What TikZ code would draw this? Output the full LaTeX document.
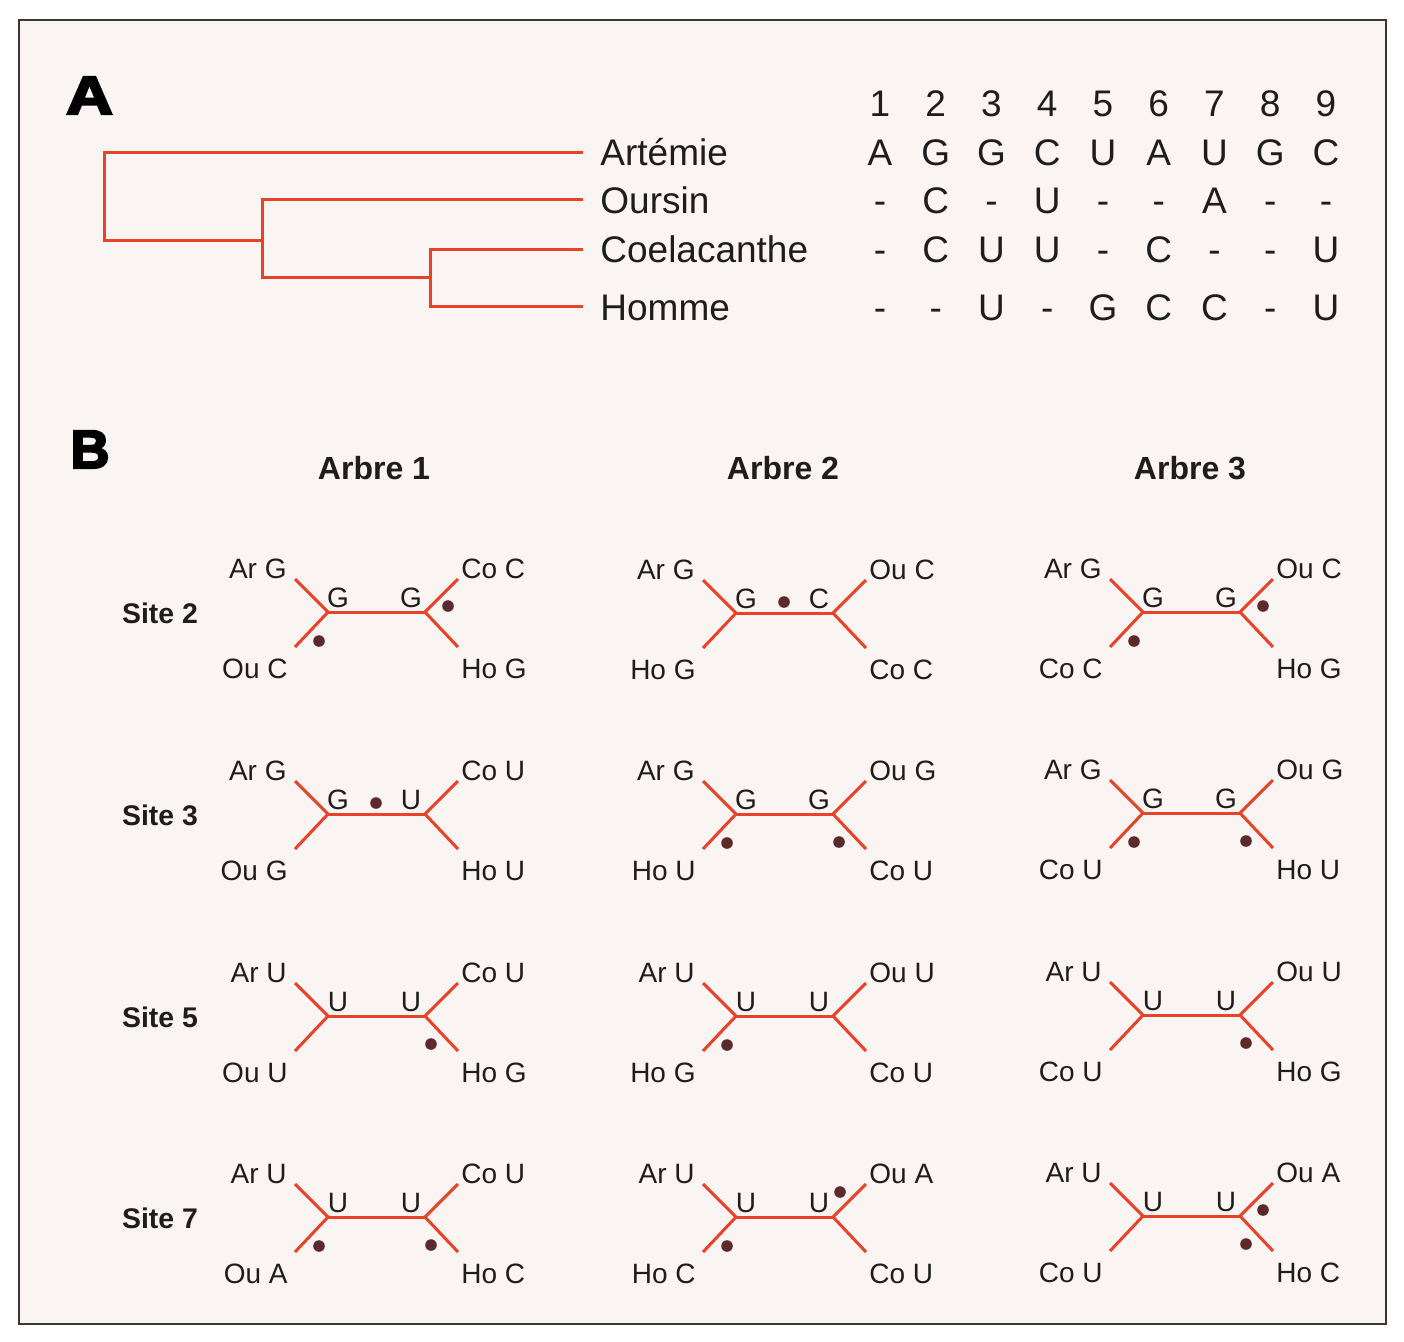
\documentclass[tikz,border=0pt]{standalone}
\usepackage{fontspec}
\setmainfont{Liberation Sans}
\newfontfamily\heavyfont[FakeBold=4]{Liberation Sans}
\definecolor{bgc}{RGB}{250,245,242}
\definecolor{redc}{RGB}{232,66,40}
\definecolor{dotc}{RGB}{92,42,42}
\definecolor{txt}{RGB}{30,28,28}
\definecolor{framec}{RGB}{55,55,55}
% #1 name, #2 Lx, #3 y, #4 UL, #5 LL, #6 UR, #7 LR, #8 inner left, #9 inner right
\newcommand\arbre[9]{%
  \coordinate (#1L) at (#2,#3);
  \coordinate (#1R) at ([shift={(97,0)}]#1L);
  \coordinate (#1ul) at ([shift={(-33,-33)}]#1L);
  \coordinate (#1ll) at ([shift={(-33,35)}]#1L);
  \coordinate (#1ur) at ([shift={(33,-33)}]#1R);
  \coordinate (#1lr) at ([shift={(33,35)}]#1R);
  \draw[branch] (#1ul) -- (#1L) -- (#1ll);
  \draw[branch] (#1L) -- (#1R);
  \draw[branch] (#1ur) -- (#1R) -- (#1lr);
  \node[lbl,anchor=base east] (#1tul) at ([shift={(-41,-34)}]#1L) {#4};
  \node[lbl,anchor=base east] (#1tll) at ([shift={(-40,66)}]#1L) {#5};
  \node[lbl,anchor=base west] (#1tur) at ([shift={(36,-34)}]#1R) {#6};
  \node[lbl,anchor=base west] (#1tlr) at ([shift={(36,66)}]#1R) {#7};
  \node[lbl,anchor=base] (#1til) at ([shift={(10,-5)}]#1L) {#8};
  \node[lbl,anchor=base] (#1tir) at ([shift={(-14,-5)}]#1R) {#9};
}
\newcommand\pdotLL[1]{\fill[dotc] ([shift={(-9,29)}]#1L) circle (2.9pt);}
\newcommand\pdotLR[1]{\fill[dotc] ([shift={(6,28)}]#1R) circle (2.9pt);}
\newcommand\pdotUR[1]{\fill[dotc] ([shift={(23,-6)}]#1R) circle (2.9pt);}
\newcommand\pdotUH[1]{\fill[dotc] ([shift={(7,-25)}]#1R) circle (2.9pt);}
\newcommand\pdotC[1]{\fill[dotc] ([shift={(48,-11)}]#1L) circle (2.9pt);}
\begin{document}
\begin{tikzpicture}[x=0.5pt,y=-0.5pt,
  redline/.style={draw=redc,line width=1.5pt},
  branch/.style={draw=redc,line width=1.5pt,line cap=butt},
  species/.style={anchor=base west,inner sep=0,font=\fontsize{18.5}{20}\selectfont,text=txt},
  seq/.style={anchor=base,inner sep=0,font=\fontsize{18.5}{20}\selectfont,text=txt},
  lbl/.style={inner sep=0,font=\fontsize{14}{16}\selectfont,text=txt},
  title/.style={anchor=base,inner sep=0,font=\bfseries\fontsize{16}{18}\selectfont,text=txt},
  sitelbl/.style={anchor=base,inner sep=0,font=\bfseries\fontsize{14.2}{16}\selectfont,text=txt},
  bigletter/.style={anchor=base,inner sep=0,font=\heavyfont\bfseries\fontsize{27}{27}\selectfont,text=black}]
\useasboundingbox (0,0) rectangle (1404,1341);
\fill[white] (0,0) rectangle (1404,1341);
\draw[framec,line width=1.1pt,fill=bgc] (19,20) rectangle (1386,1324);

% Part A
\node[bigletter,xscale=1.2] (lA) at (89.5,114) {A};
\coordinate (tArt) at (583,152);
\coordinate (tOur) at (583,199);
\coordinate (tCoe) at (583,249);
\coordinate (tHom) at (583,306);
\coordinate (n1a) at (104,152);
\coordinate (n1b) at (104,240);
\coordinate (n2m) at (262,240);
\coordinate (n2a) at (262,199);
\coordinate (n2b) at (262,277);
\coordinate (n3m) at (430,277);
\coordinate (n3a) at (430,249);
\coordinate (n3b) at (430,306);
\draw[redline] (tArt) -- (n1a) -- (n1b) -- (n2m);
\draw[redline] (tOur) -- (n2a) -- (n2b) -- (n3m);
\draw[redline] (tCoe) -- (n3a) -- (n3b) -- (tHom);

\node[species] (spArt) at (600,165) {Artémie};
\node[species] (spOur) at (600,213) {Oursin};
\node[species] (spCoe) at (600,262) {Coelacanthe};
\node[species] (spHom) at (600,320) {Homme};

\foreach \ch [count=\i] in {1,2,3,4,5,6,7,8,9}
  {\pgfmathsetmacro\xx{880+55.75*(\i-1)}\node[seq] (num\i) at (\xx,116) {\ch};}
\foreach \ch [count=\i] in {A,G,G,C,U,A,U,G,C}
  {\pgfmathsetmacro\xx{880+55.75*(\i-1)}\node[seq] (art\i) at (\xx,165) {\ch};}
\foreach \ch [count=\i] in {-,C,-,U,-,-,A,-,-}
  {\pgfmathsetmacro\xx{880+55.75*(\i-1)}\node[seq] (our\i) at (\xx,213) {\ch};}
\foreach \ch [count=\i] in {-,C,U,U,-,C,-,-,U}
  {\pgfmathsetmacro\xx{880+55.75*(\i-1)}\node[seq] (coe\i) at (\xx,262) {\ch};}
\foreach \ch [count=\i] in {-,-,U,-,G,C,C,-,U}
  {\pgfmathsetmacro\xx{880+55.75*(\i-1)}\node[seq] (hom\i) at (\xx,320) {\ch};}

% Part B
\node[bigletter] (lB) at (90,468) {B};
\node[title] (arb1) at (374,479.5) {Arbre 1};
\node[title] (arb2) at (783,479.5) {Arbre 2};
\node[title] (arb3) at (1190,479.5) {Arbre 3};
\node[sitelbl] (site2) at (160,623) {Site 2};
\node[sitelbl] (site3) at (160,825) {Site 3};
\node[sitelbl] (site5) at (160,1027) {Site 5};
\node[sitelbl] (site7) at (160,1228) {Site 7};

% Site 2
\arbre{a12}{328}{612}{Ar G}{Ou C}{Co C}{Ho G}{G}{G}
\pdotLL{a12}\pdotUR{a12}
\arbre{a22}{736}{613}{Ar G}{Ho G}{Ou C}{Co C}{G}{C}
\pdotC{a22}
\arbre{a32}{1143}{612}{Ar G}{Co C}{Ou C}{Ho G}{G}{G}
\pdotLL{a32}\pdotUR{a32}
% Site 3
\arbre{a13}{328}{814}{Ar G}{Ou G}{Co U}{Ho U}{G}{U}
\pdotC{a13}
\arbre{a23}{736}{814}{Ar G}{Ho U}{Ou G}{Co U}{G}{G}
\pdotLL{a23}\pdotLR{a23}
\arbre{a33}{1143}{813}{Ar G}{Co U}{Ou G}{Ho U}{G}{G}
\pdotLL{a33}\pdotLR{a33}
% Site 5
\arbre{a15}{328}{1016}{Ar U}{Ou U}{Co U}{Ho G}{U}{U}
\pdotLR{a15}
\arbre{a25}{736}{1016}{Ar U}{Ho G}{Ou U}{Co U}{U}{U}
\pdotLL{a25}
\arbre{a35}{1143}{1015}{Ar U}{Co U}{Ou U}{Ho G}{U}{U}
\pdotLR{a35}
% Site 7
\arbre{a17}{328}{1217}{Ar U}{Ou A}{Co U}{Ho C}{U}{U}
\pdotLL{a17}\pdotLR{a17}
\arbre{a27}{736}{1217}{Ar U}{Ho C}{Ou A}{Co U}{U}{U}
\pdotLL{a27}\pdotUH{a27}
\arbre{a37}{1143}{1216}{Ar U}{Co U}{Ou A}{Ho C}{U}{U}
\pdotUR{a37}\pdotLR{a37}
\end{tikzpicture}
\end{document}
